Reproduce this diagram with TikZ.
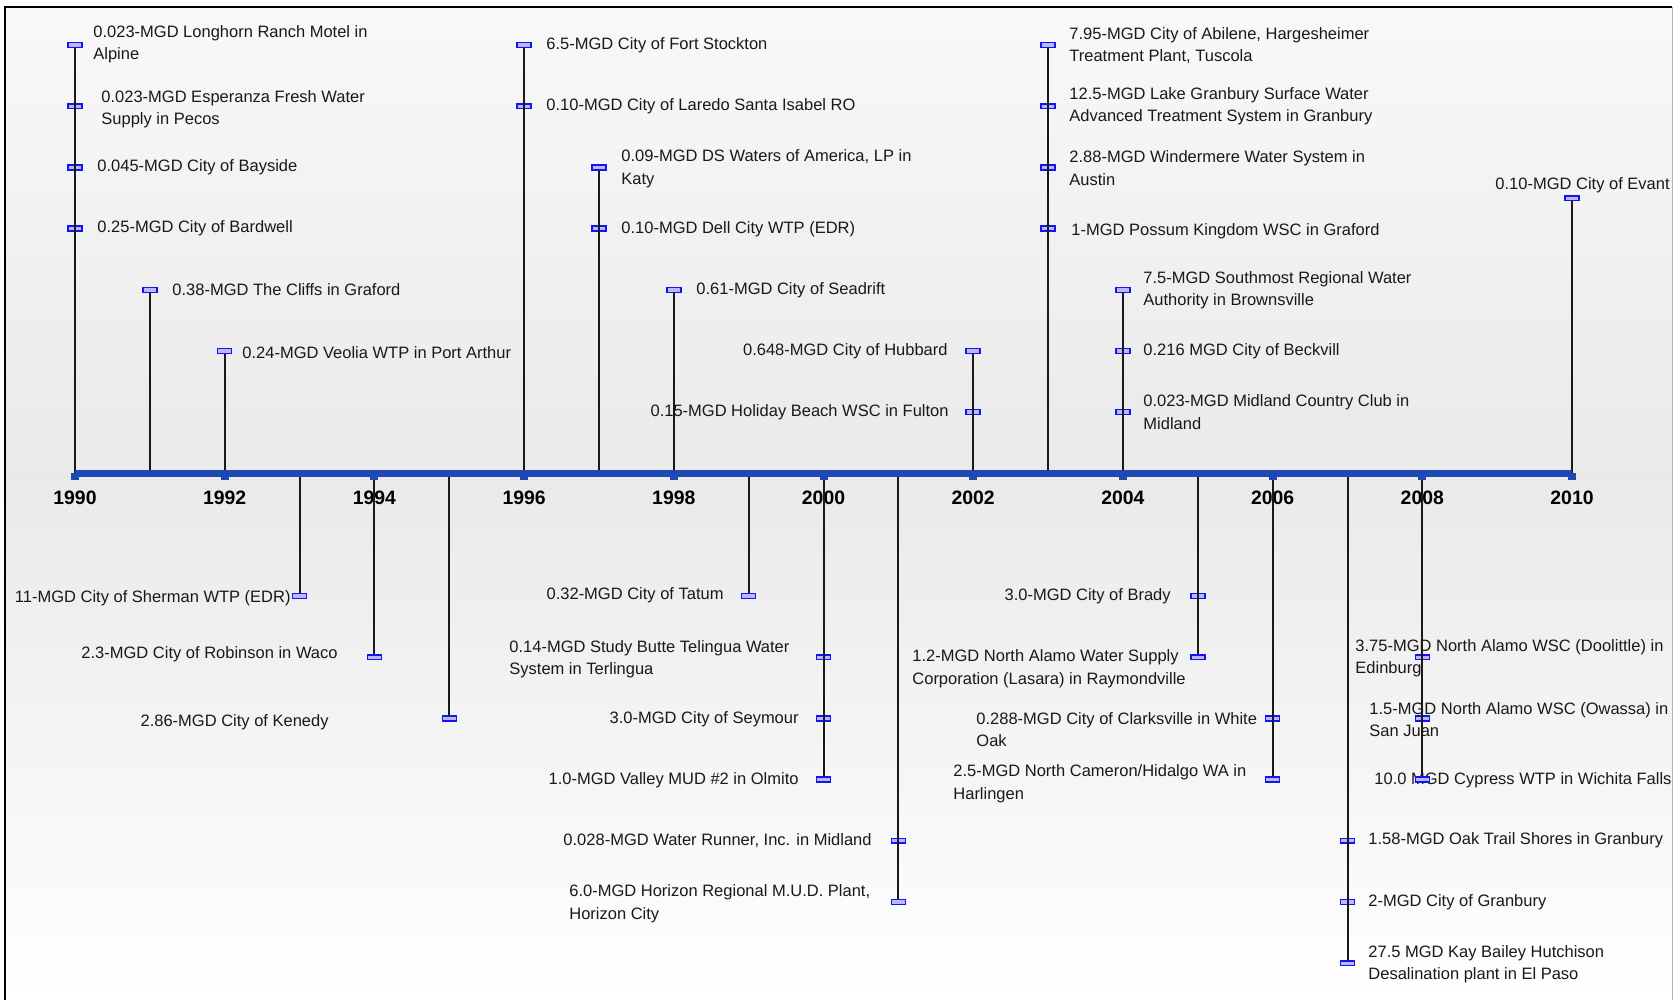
\documentclass[tikz,border=0pt]{standalone}
\usepackage{fontspec}
\setmainfont{Liberation Sans}
\usepackage{tikz}
\definecolor{axisblue}{RGB}{30,72,178}
\definecolor{evtblue}{RGB}{20,20,240}
\tikzset{evt/.style={rectangle,draw=evtblue,fill=evtblue!30,line width=0.75pt,minimum width=7pt,minimum height=2.4pt,inner sep=0pt},
    lbl/.style={inner sep=0pt,align=left,text=black!90,font=\fontsize{8.25}{11.25}\selectfont},
    yr/.style={inner sep=0pt,font=\bfseries\fontsize{9.7}{11}\selectfont},
    stemline/.style={line width=1pt,black!90},
    axisline/.style={axisblue,line width=3.5pt}}

\begin{document}
\begin{tikzpicture}[x=0.5pt,y=0.5pt,yscale=-1,xscale=1]
\useasboundingbox (0,0) rectangle (1673,1000);

%Shape: Background
\shade [top color=gray!5,bottom color=gray!17] (5,7) rectangle (1672,473) ;
\shade [top color=gray!17,bottom color=white] (5,473) rectangle (1672,1000) ;
%Shape: Frame
\draw [line width=1.2pt] (5,1000) -- (5,7) -- (1672,7) ;
\draw [gray!60,line width=0.5pt] (1672,7) -- (1672,1000) ;

%Axis points
\coordinate (a90) at (75,473) ;
\coordinate (a91) at (149.9,473) ;
\coordinate (a92) at (224.7,473) ;
\coordinate (a93) at (299.6,473) ;
\coordinate (a94) at (374.4,473) ;
\coordinate (a95) at (449.3,473) ;
\coordinate (a96) at (524.1,473) ;
\coordinate (a97) at (599,473) ;
\coordinate (a98) at (673.8,473) ;
\coordinate (a99) at (748.7,473) ;
\coordinate (a00) at (823.5,473) ;
\coordinate (a01) at (898.4,473) ;
\coordinate (a02) at (973.2,473) ;
\coordinate (a03) at (1048,473) ;
\coordinate (a04) at (1122.9,473) ;
\coordinate (a05) at (1197.8,473) ;
\coordinate (a06) at (1272.6,473) ;
\coordinate (a07) at (1347.5,473) ;
\coordinate (a08) at (1422.3,473) ;
\coordinate (a10) at (1572,473) ;

% Year Nodes
\draw (75,497.5) node (yl90) [yr] {1990};
\draw (224.7,497.5) node (yl92) [yr] {1992};
\draw (374.4,497.5) node (yl94) [yr] {1994};
\draw (524.1,497.5) node (yl96) [yr] {1996};
\draw (673.8,497.5) node (yl98) [yr] {1998};
\draw (823.5,497.5) node (yl00) [yr] {2000};
\draw (973.2,497.5) node (yl02) [yr] {2002};
\draw (1122.9,497.5) node (yl04) [yr] {2004};
\draw (1272.6,497.5) node (yl06) [yr] {2006};
\draw (1422.3,497.5) node (yl08) [yr] {2008};
\draw (1572,497.5) node (yl10) [yr] {2010};

% Text Node
\draw (93,44) node (t90a) [anchor=west][lbl] {0.023-MGD Longhorn Ranch Motel in\\Alpine};
% Text Node
\draw (101,109) node (t90b) [anchor=west][lbl] {0.023-MGD Esperanza Fresh Water\\Supply in Pecos};
% Text Node
\draw (97,167) node (t90c) [anchor=west][lbl] {0.045-MGD City of Bayside};
% Text Node
\draw (97,228.6) node (t90d) [anchor=west][lbl] {0.25-MGD City of Bardwell};
% Text Node
\draw (172,290) node (t91a) [anchor=west][lbl] {0.38-MGD The Cliffs in Graford};
% Text Node
\draw (242,353) node (t92a) [anchor=west][lbl] {0.24-MGD Veolia WTP in Port Arthur};
% Text Node
\draw (546,45) node (t96a) [anchor=west][lbl] {6.5-MGD City of Fort Stockton};
% Text Node
\draw (546,106) node (t96b) [anchor=west][lbl] {0.10-MGD City of Laredo Santa Isabel RO};
% Text Node
\draw (621,168.5) node (t97a) [anchor=west][lbl] {0.09-MGD DS Waters of America, LP in\\Katy};
% Text Node
\draw (621,229) node (t97b) [anchor=west][lbl] {0.10-MGD Dell City WTP (EDR)};
% Text Node
\draw (696,290) node (t98a) [anchor=west][lbl] {0.61-MGD City of Seadrift};
% Text Node
\draw (948,351) node (t02a) [anchor=east][lbl] {0.648-MGD City of Hubbard};
% Text Node
\draw (949,412) node (t02b) [anchor=east][lbl] {0.15-MGD Holiday Beach WSC in Fulton};
% Text Node
\draw (1069,45.5) node (t03a) [anchor=west][lbl] {7.95-MGD City of Abilene, Hargesheimer\\Treatment Plant, Tuscola};
% Text Node
\draw (1069,106) node (t03b) [anchor=west][lbl] {12.5-MGD Lake Granbury Surface Water\\Advanced Treatment System in Granbury};
% Text Node
\draw (1069,168) node (t03c) [anchor=west][lbl] {2.88-MGD Windermere Water System in\\Austin};
% Text Node
\draw (1071,231) node (t03d) [anchor=west][lbl] {1-MGD Possum Kingdom WSC in Graford};
% Text Node
\draw (1143,290) node (t04a) [anchor=west][lbl] {7.5-MGD Southmost Regional Water\\Authority in Brownsville};
% Text Node
\draw (1143,351) node (t04b) [anchor=west][lbl] {0.216 MGD City of Beckvill};
% Text Node
\draw (1143,412) node (t04c) [anchor=west][lbl] {0.023-MGD Midland Country Club in\\Midland};
% Text Node
\draw (1495,185) node (t10a) [anchor=west][lbl] {0.10-MGD City of Evant};
% Text Node
\draw (291,598.5) node (t93a) [anchor=east][lbl] {11-MGD City of Sherman WTP (EDR)};
% Text Node
\draw (338,654) node (t94a) [anchor=east][lbl] {2.3-MGD City of Robinson in Waco};
% Text Node
\draw (329,722) node (t95a) [anchor=east][lbl] {2.86-MGD City of Kenedy};
% Text Node
\draw (724,595.5) node (t99a) [anchor=east][lbl] {0.32-MGD City of Tatum};
% Text Node
\draw (509,659) node (t00a) [anchor=west][lbl] {0.14-MGD Study Butte Telingua Water\\System in Terlingua};
% Text Node
\draw (799,719) node (t00b) [anchor=east][lbl] {3.0-MGD City of Seymour};
% Text Node
\draw (799,780) node (t00c) [anchor=east][lbl] {1.0-MGD Valley MUD \#2 in Olmito};
% Text Node
\draw (872,840.7) node (t01a) [anchor=east][lbl] {0.028-MGD Water Runner, Inc. in Midland};
% Text Node
\draw (569,903.5) node (t01b) [anchor=west][lbl] {6.0-MGD Horizon Regional M.U.D. Plant,\\Horizon City};
% Text Node
\draw (1171,596) node (t05a) [anchor=east][lbl] {3.0-MGD City of Brady};
% Text Node
\draw (912,668.7) node (t05b) [anchor=west][lbl] {1.2-MGD North Alamo Water Supply\\Corporation (Lasara) in Raymondville};
% Text Node
\draw (976,729.5) node (t06a) [anchor=west][lbl] {0.288-MGD City of Clarksville in White\\Oak};
% Text Node
\draw (953,783.7) node (t06b) [anchor=west][lbl] {2.5-MGD North Cameron/Hidalgo WA in\\Harlingen};
% Text Node
\draw (1355,658.3) node (t08a) [anchor=west][lbl] {3.75-MGD North Alamo WSC (Doolittle) in\\Edinburg};
% Text Node
\draw (1369,719.7) node (t08b) [anchor=west][lbl] {1.5-MGD North Alamo WSC (Owassa) in\\San Juan};
% Text Node
\draw (1374,780) node (t08c) [anchor=west][lbl] {10.0 MGD Cypress WTP in Wichita Falls};
% Text Node
\draw (1368,840.7) node (t07a) [anchor=west][lbl] {1.58-MGD Oak Trail Shores in Granbury};
% Text Node
\draw (1368,902) node (t07b) [anchor=west][lbl] {2-MGD City of Granbury};
% Text Node
\draw (1368,964.3) node (t07c) [anchor=west][lbl] {27.5 MGD Kay Bailey Hutchison\\Desalination plant in El Paso};

%Shape: Event Markers
\draw (75,45) node (m90a) [evt] {};
\draw (75,106.2) node (m90b) [evt] {};
\draw (75,167.4) node (m90c) [evt] {};
\draw (75,228.6) node (m90d) [evt] {};
\draw (149.9,290) node (m91a) [evt] {};
\draw (224.7,351) node (m92a) [evt] {};
\draw (299.6,596) node (m93a) [evt] {};
\draw (374.4,657.2) node (m94a) [evt] {};
\draw (449.3,718.4) node (m95a) [evt] {};
\draw (524.1,45) node (m96a) [evt] {};
\draw (524.1,106.2) node (m96b) [evt] {};
\draw (599,167.4) node (m97a) [evt] {};
\draw (599,228.6) node (m97b) [evt] {};
\draw (673.8,290) node (m98a) [evt] {};
\draw (748.7,596) node (m99a) [evt] {};
\draw (823.5,657.2) node (m00a) [evt] {};
\draw (823.5,718.4) node (m00b) [evt] {};
\draw (823.5,779.6) node (m00c) [evt] {};
\draw (898.4,840.8) node (m01a) [evt] {};
\draw (898.4,902) node (m01b) [evt] {};
\draw (973.2,351) node (m02a) [evt] {};
\draw (973.2,412) node (m02b) [evt] {};
\draw (1048,45) node (m03a) [evt] {};
\draw (1048,106.2) node (m03b) [evt] {};
\draw (1048,167.4) node (m03c) [evt] {};
\draw (1048,228.6) node (m03d) [evt] {};
\draw (1122.9,290) node (m04a) [evt] {};
\draw (1122.9,351) node (m04b) [evt] {};
\draw (1122.9,412) node (m04c) [evt] {};
\draw (1197.8,596) node (m05a) [evt] {};
\draw (1197.8,657.2) node (m05b) [evt] {};
\draw (1272.6,718.4) node (m06a) [evt] {};
\draw (1272.6,779.6) node (m06b) [evt] {};
\draw (1347.5,840.8) node (m07a) [evt] {};
\draw (1347.5,902) node (m07b) [evt] {};
\draw (1347.5,963.2) node (m07c) [evt] {};
\draw (1422.3,657.2) node (m08a) [evt] {};
\draw (1422.3,718.4) node (m08b) [evt] {};
\draw (1422.3,779.6) node (m08c) [evt] {};
\draw (1572,198.3) node (m10a) [evt] {};

%Straight Lines
\draw [stemline] (a90) -- (m90a) ;
\draw [stemline] (a91) -- (m91a) ;
\draw [stemline] (a92) -- (m92a) ;
\draw [stemline] (a93) -- (m93a) ;
\draw [stemline] (a94) -- (m94a) ;
\draw [stemline] (a95) -- (m95a) ;
\draw [stemline] (a96) -- (m96a) ;
\draw [stemline] (a97) -- (m97a) ;
\draw [stemline] (a98) -- (m98a) ;
\draw [stemline] (a99) -- (m99a) ;
\draw [stemline] (a00) -- (m00c) ;
\draw [stemline] (a01) -- (m01b) ;
\draw [stemline] (a02) -- (m02a) ;
\draw [stemline] (a03) -- (m03a) ;
\draw [stemline] (a04) -- (m04a) ;
\draw [stemline] (a05) -- (m05b) ;
\draw [stemline] (a06) -- (m06b) ;
\draw [stemline] (a07) -- (m07c) ;
\draw [stemline] (a08) -- (m08c) ;
\draw [stemline] (a10) -- (m10a) ;

%Shape: Axis
\draw [axisline] (a90) -- (a10) ;
%Shape: Year Ticks
\fill [axisblue] (71,473) rectangle (79,480) ;
\fill [axisblue] (220.7,473) rectangle (228.7,480) ;
\fill [axisblue] (370.4,473) rectangle (378.4,480) ;
\fill [axisblue] (520.1,473) rectangle (528.1,480) ;
\fill [axisblue] (669.8,473) rectangle (677.8,480) ;
\fill [axisblue] (819.5,473) rectangle (827.5,480) ;
\fill [axisblue] (969.2,473) rectangle (977.2,480) ;
\fill [axisblue] (1118.9,473) rectangle (1126.9,480) ;
\fill [axisblue] (1268.6,473) rectangle (1276.6,480) ;
\fill [axisblue] (1418.3,473) rectangle (1426.3,480) ;
\fill [axisblue] (1568,473) rectangle (1576,480) ;

\end{tikzpicture}
\end{document}
